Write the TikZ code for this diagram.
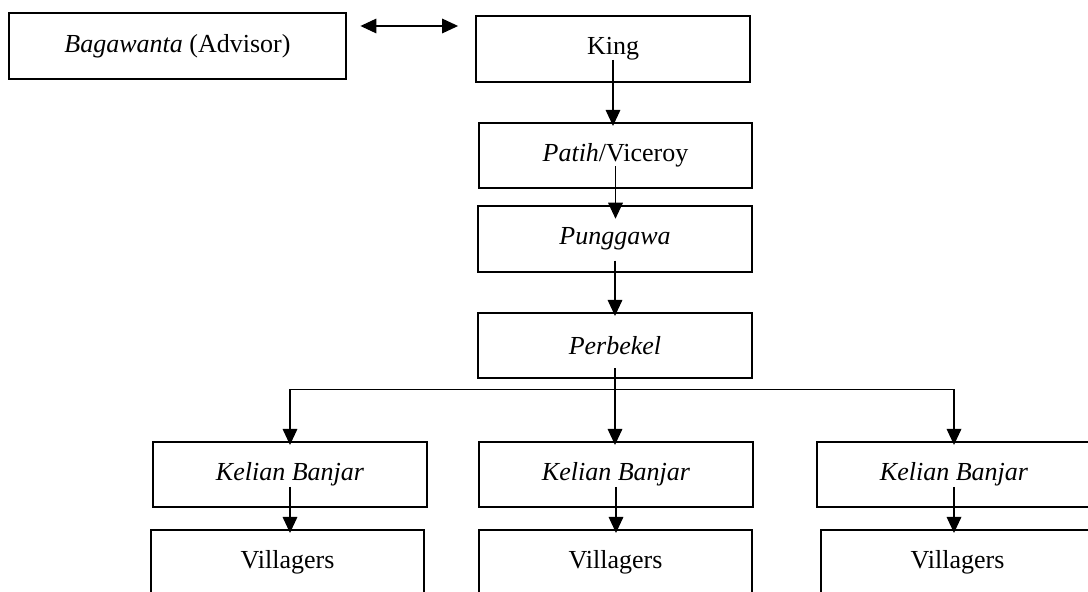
\documentclass[tikz,border=0pt]{standalone}
\usepackage{fontspec}
\setmainfont{Liberation Serif}
\usetikzlibrary{arrows.meta}

\begin{document}
\begin{tikzpicture}[x=0.75pt, y=-0.75pt,
        unitbox/.style={draw, line width=1.4pt, minimum width=205pt, minimum height=49pt,
            inner sep=0pt, font=\fontsize{19.5pt}{23pt}\selectfont},
        flow/.style={-{Triangle[length=12pt,width=11pt]}, line width=0.9pt, shorten >=-3pt},
        twoway/.style={{Triangle[length=12pt,width=11pt]}-{Triangle[length=12pt,width=11pt]}, line width=0.9pt}]
        \useasboundingbox (0,0) rectangle (1088,592);
        \clip (0,0) rectangle (1088,592);
        
        \node[unitbox, minimum width=253pt] (bag) at (177.5,46) {\textit{Bagawanta} (Advisor)};
        \node[unitbox] (king) at (613,49) {King};
        \draw[twoway] ([xshift=10pt,yshift=15pt]bag.east) -- ([xshift=-13pt,yshift=17.25pt]king.west);
        
        \node[unitbox] (patih) at (615.5,155.5) {\textit{Patih}/Viceroy};
        \node[unitbox] (punggawa) at (615,239) {\textit{Punggawa}};
        \node[unitbox] (perbekel) at (615,345.5) {\textit{Perbekel}};
        
        \draw[flow] ([yshift=17pt]king.south) -- (king.south |- patih.north);
        \draw[flow, shorten >=-10pt] ([yshift=17pt]patih.south) -- (patih.south |- punggawa.north);
        \draw[flow] ([yshift=9pt]punggawa.south) -- (punggawa.south |- perbekel.north);
        
        % banjar level
        \node[unitbox] (kelian1) at (290,474.5) {\textit{Kelian Banjar}};
        \node[unitbox] (kelian2) at (616,474.5) {\textit{Kelian Banjar}};
        \node[unitbox] (kelian3) at (954,474.5) {\textit{Kelian Banjar}};
        
        \coordinate (split) at ([yshift=-8pt]perbekel.south);
        \draw[flow] ([yshift=8pt]perbekel.south) -- (perbekel.south |- kelian2.north);
        \draw[flow] (split) -| (kelian1.north);
        \draw[flow] (split) -| (kelian3.north);
        
        % villagers
        \node[unitbox] (villagers1) at (287.5,562.5) {Villagers};
        \node[unitbox] (villagers2) at (615.5,562.5) {Villagers};
        \node[unitbox] (villagers3) at (957.5,562.5) {Villagers};
        
        \draw[flow] ([yshift=16pt]kelian1.south) -- (kelian1.south |- villagers1.north);
        \draw[flow] ([yshift=16pt]kelian2.south) -- (kelian2.south |- villagers2.north);
        \draw[flow] ([yshift=16pt]kelian3.south) -- (kelian3.south |- villagers3.north);
    \end{tikzpicture}
\end{document}
